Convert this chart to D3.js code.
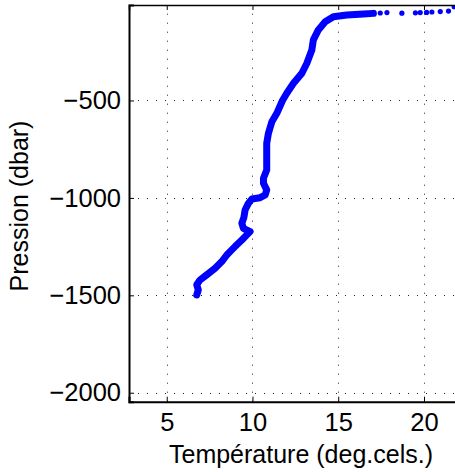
<!DOCTYPE html>
<html>
<head>
<meta charset="utf-8">
<script src="https://cdn.jsdelivr.net/npm/d3@7"></script>
<style>
  body { margin: 0; background: #fff; }
  text { font-family: "Liberation Sans", Arial, Helvetica, sans-serif; fill: #000; }
</style>
</head>
<body>
<div id="chart"></div>
<script>
// temperature profile (deg C) against pressure (dbar)
const temperature = [
  6.75, 6.84, 6.75, 6.94, 7.33, 7.82, 8.21, 8.50, 8.79, 8.98,
  9.38, 9.67, 9.86, 9.47, 9.38, 9.50, 9.57, 9.76, 9.96, 10.44,
  10.74, 10.83, 10.64, 10.64, 10.83, 10.83, 10.83, 10.93, 11.13, 11.42,
  11.75, 12.0, 12.39, 12.88, 13.17, 13.46, 13.55, 13.84, 14.24, 14.72,
  15.50, 16.47, 17.05, 17.45, 17.84, 18.71, 19.5, 19.78, 20.15, 20.46,
  20.95, 21.43, 21.76
];
const pressure = [
  -1498, -1472, -1446, -1421, -1395, -1361, -1327, -1293, -1267, -1250,
  -1216, -1190, -1173, -1156, -1130, -1100, -1062, -1028, -1006, -999,
  -985, -959, -925, -899, -857, -788, -720, -668, -609, -566,
  -500, -463, -412, -360, -309, -241, -189, -138, -96, -70,
  -61, -56, -53, -51, -49, -52, -50, -49, -48, -46,
  -44, -41, -19
];
const xTicks = [5, 10, 15, 20];
const yTicks = [-2000, -1500, -1000, -500];
const xLimits = [2.8, 22.1];
const yLimits = [-2046, -10];

const W = 455, H = 472;
const m = { left: 129, top: 5, right: 460, bottom: 401.7 };

const svg = d3.select("#chart").append("svg")
  .attr("width", W)
  .attr("height", H);

const x = d3.scaleLinear().domain(xLimits).range([m.left, m.right]);
const y = d3.scaleLinear().domain(yLimits).range([m.bottom, m.top]);

svg.append("clipPath").attr("id", "clip")
  .append("rect")
  .attr("x", m.left).attr("y", m.top)
  .attr("width", m.right - m.left).attr("height", m.bottom - m.top);

// dotted grid
const grid = svg.append("g").attr("stroke", "#222").attr("stroke-width", 1)
  .attr("stroke-dasharray", "1,8");
grid.selectAll(".gx").data(xTicks).enter().append("line")
  .attr("x1", d => Math.round(x(d)) + 0.5).attr("x2", d => Math.round(x(d)) + 0.5)
  .attr("y1", m.bottom).attr("y2", m.top);
grid.selectAll(".gy").data(yTicks).enter().append("line")
  .attr("y1", d => Math.round(y(d)) + 0.5).attr("y2", d => Math.round(y(d)) + 0.5)
  .attr("x1", m.left).attr("x2", m.right);

const pts = temperature.map((t, i) => ({ t: t, p: pressure[i] }));

const plot = svg.append("g").attr("clip-path", "url(#clip)");

// densely sampled part of the cast looks like a solid thick band
const line = d3.line().x(d => x(d.t)).y(d => y(d.p));
plot.append("path")
  .datum(pts.filter(d => d.t < 17.2))
  .attr("d", line)
  .attr("fill", "none")
  .attr("stroke", "#0000ff")
  .attr("stroke-width", 7)
  .attr("stroke-linejoin", "round")
  .attr("stroke-linecap", "round");

plot.selectAll("circle").data(pts).enter().append("circle")
  .attr("cx", d => x(d.t))
  .attr("cy", d => y(d.p))
  .attr("r", 2.6)
  .attr("fill", "#0000ff");

// axes: MATLAB style, ticks inside
const xAxis = d3.axisBottom(x).tickValues(xTicks).tickSize(-5).tickPadding(11)
  .tickFormat(d3.format("d"));
const yAxis = d3.axisLeft(y).tickValues(yTicks).tickSize(-5).tickPadding(8)
  .tickFormat(d => "\u2212" + Math.abs(d));

const gx = svg.append("g").attr("transform", `translate(0,${m.bottom})`).call(xAxis);
const gy = svg.append("g").attr("transform", `translate(${m.left},0)`).call(yAxis);
const gxTop = svg.append("g").attr("transform", `translate(0,${m.top})`)
  .call(d3.axisTop(x).tickValues(xTicks).tickSize(-5).tickFormat(""));

[gx, gy, gxTop].forEach(g => {
  g.select(".domain").attr("stroke", "#000").attr("stroke-width", 2);
  g.selectAll(".tick line").attr("stroke", "#000");
  g.selectAll(".tick text").style("font-size", "25.5px");
});
gxTop.select(".domain").attr("stroke-width", 1.5);
gx.selectAll(".tick text").attr("dy", "0.71em");

svg.append("text")
  .attr("x", 301).attr("y", 463)
  .attr("text-anchor", "middle")
  .style("font-size", "25px")
  .text("Température (deg.cels.)");

svg.append("text")
  .attr("transform", "translate(28,206) rotate(-90)")
  .attr("text-anchor", "middle")
  .style("font-size", "25px")
  .text("Pression (dbar)");
</script>
</body>
</html>
